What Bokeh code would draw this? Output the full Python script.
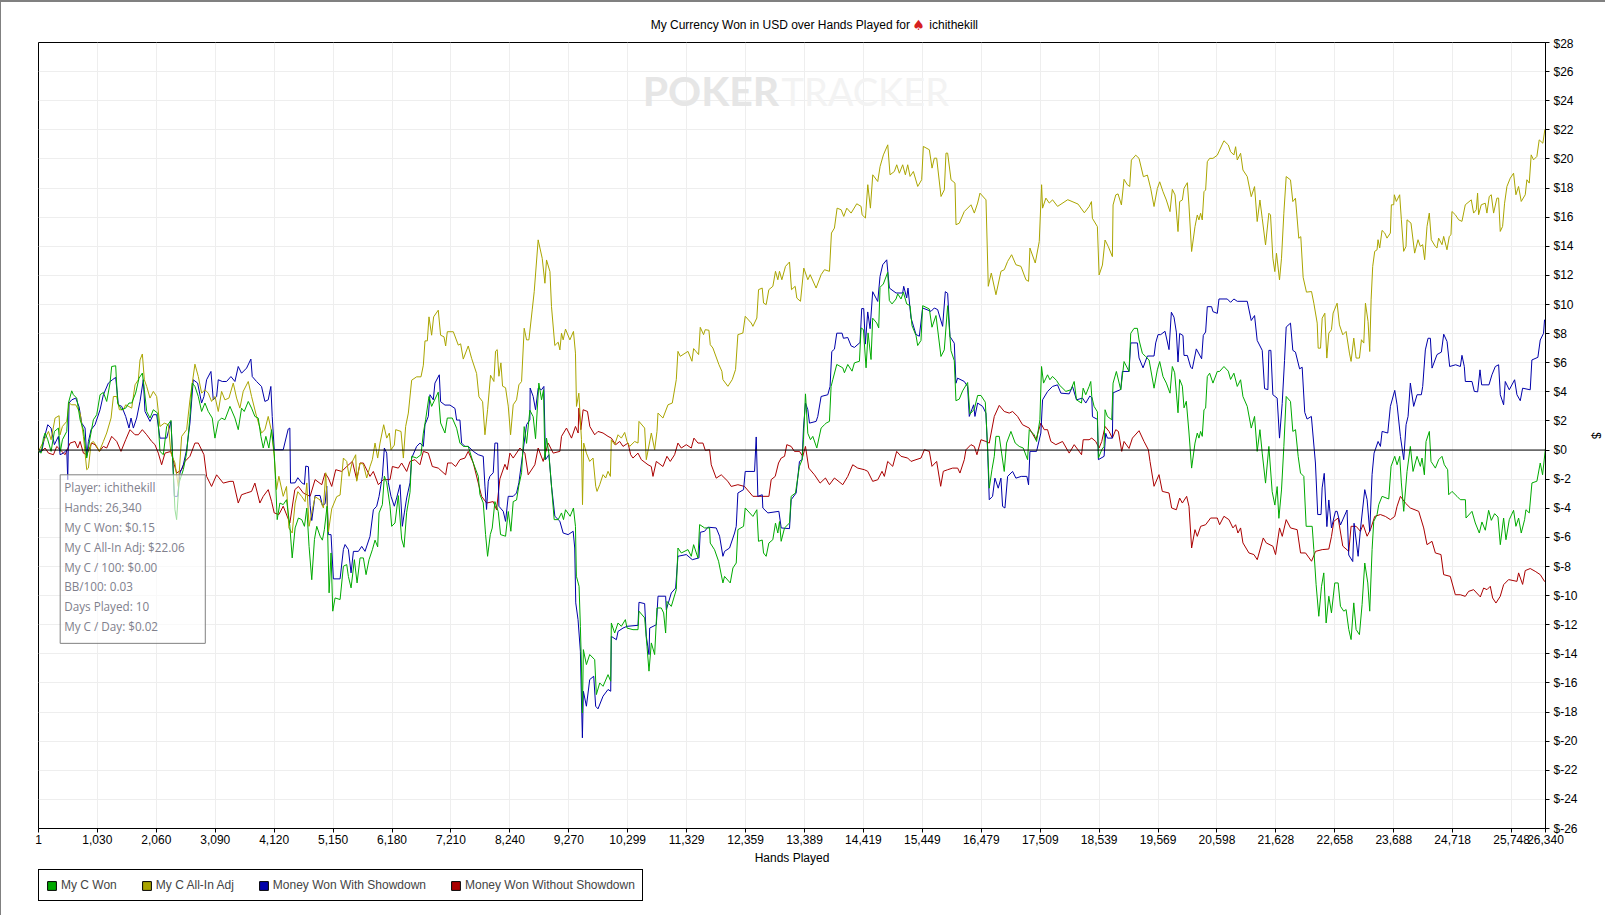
from bokeh.plotting import figure
from bokeh.layouts import column
from bokeh.models import (AllLabels, BoxAnnotation, FixedTicker, Label, Legend, LegendItem, Range1d, Span)
from bokeh.embed import file_html
from bokeh.resources import INLINE

TITLE_LEFT = "My Currency Won in USD over Hands Played for"
TITLE_ICON = "\u2660"
TITLE_RIGHT = "ichithekill"
X_TICKS = [1, 1030, 2060, 3090, 4120, 5150, 6180, 7210, 8240, 9270, 10299, 11329, 12359, 13389, 14419, 15449,
           16479, 17509, 18539, 19569, 20598, 21628, 22658, 23688, 24718, 25748, 26340]
Y_TICKS = list(range(-26, 30, 2))
TOOLTIP = ["Player: ichithekill", "Hands: 26,340", "My C Won: $0.15", "My C All-In Adj: $22.06", "My C / 100: $0.00",
           "BB/100: 0.03", "Days Played: 10", "My C / Day: $0.02"]

MY_C_WON = [(1,-0.09),(47,-0.21),(87,0.82),(116,1.17),(163,0.71),(221,-0.09),(279,1.28),(349,1.51),(384,-0.09),(419,0.71),
(495,1.28),(524,3.23),(582,4.07),(611,3.80),(669,3.57),(728,2.08),(786,1.40),(844,-0.55),(902,0.82),(960,2.08),
(1019,2.43),(1077,3.80),(1135,3.96),(1193,3.34),(1251,4.60),(1280,5.74),(1350,5.79),(1385,3.23),(1455,2.77),(1525,2.88),
(1583,3.23),(1630,3.23),(1699,3.91),(1758,4.94),(1816,5.29),(1851,4.14),(1892,2.65),(1950,2.20),(2008,2.77),(2084,2.54),
(2124,-0.09),(2183,-0.32),(2241,1.62),(2316,2.04),(2357,-1.58),(2386,-4.10),(2415,-4.78),(2456,-2.27),(2532,-1.35),(2590,-0.21),
(2648,2.31),(2689,4.60),(2735,4.37),(2794,3.68),(2852,2.65),(2910,3.23),(2968,2.65),(3038,2.20),(3085,0.82),(3143,1.97),
(3201,2.20),(3259,2.08),(3347,3.00),(3434,2.20),(3492,1.40),(3550,2.88),(3597,2.65),(3667,3.34),(3725,2.88),(3783,2.31),
(3841,2.20),(3888,0.94),(3929,0.14),(3975,0.94),(4027,0.14),(4074,1.40),(4121,-0.21),(4144,-2.04),(4173,-4.78),(4220,-3.64),
(4278,-3.75),(4336,-3.41),(4394,-5.24),(4435,-7.41),(4486,-5.35),(4544,-4.67),(4602,-4.78),(4649,-5.24),(4690,-3.98),(4730,-6.62),
(4777,-8.91),(4824,-6.15),(4864,-5.24),(4923,-5.92),(4963,-6.19),(4998,-5.45),(5044,-3.86),(5080,-9.81),(5114,-7.07),(5144,-11.07),
(5184,-10.16),(5272,-10.27),(5330,-7.98),(5388,-7.87),(5417,-8.68),(5464,-9.47),(5522,-7.53),(5569,-9.13),(5621,-7.41),(5679,-7.41),
(5726,-8.56),(5778,-7.53),(5836,-6.85),(5883,-6.19),(5929,-6.65),(5953,-4.32),(6011,-3.75),(6046,-1.79),(6087,-2.25),(6145,-3.86),
(6174,-5.24),(6232,-5.01),(6290,-3.13),(6348,-6.11),(6389,-6.68),(6436,-4.27),(6494,-2.90),(6523,-0.43),(6610,-0.55),(6686,-0.32),
(6727,1.16),(6767,2.08),(6826,3.68),(6872,3.00),(6988,3.98),(7029,1.86),(7105,1.17),(7146,2.20),(7233,2.20),(7309,1.50),
(7367,0.48),(7425,0.25),(7512,0.25),(7600,-0.89),(7687,-1.80),(7716,-3.05),(7774,-3.63),(7815,-5.81),(7850,-7.30),(7897,-5.81),
(7931,-5.36),(7978,-3.54),(8036,-4.22),(8077,-5.81),(8164,-5.92),(8211,-4.22),(8257,-5.58),(8298,-3.54),(8356,-3.43),(8397,-2.43),
(8444,-1.56),(8490,1.61),(8531,0.46),(8589,2.74),(8647,2.29),(8688,0.78),(8746,4.60),(8793,3.45),(8828,4.14),(8851,-0.66),
(8880,0.82),(8921,-0.21),(8967,-2.50),(9014,-4.78),(9084,-4.78),(9142,-4.32),(9177,-4.78),(9212,-4.10),(9293,-4.55),(9351,-3.98),
(9386,-5.24),(9402,-8.67),(9449,-9.36),(9472,-12.11),(9489,-14.63),(9507,-18.06),(9524,-13.71),(9577,-14.74),(9635,-14.05),(9722,-14.40),
(9751,-16.80),(9810,-16.00),(9868,-16.23),(9955,-15.43),(10002,-15.88),(10013,-11.88),(10071,-12.57),(10130,-11.88),(10188,-12.11),(10258,-11.65),
(10287,-12.23),(10391,-12.34),(10479,-12.34),(10496,-11.07),(10595,-11.53),(10636,-13.48),(10671,-15.19),(10712,-13.25),(10770,-14.05),(10811,-10.85),
(10886,-10.85),(10927,-11.19),(10962,-12.57),(10985,-10.40),(11061,-10.74),(11148,-9.59),(11177,-6.73),(11236,-7.07),(11352,-6.84),(11410,-7.30),
(11451,-6.50),(11527,-7.41),(11556,-5.12),(11643,-5.35),(11730,-5.35),(11742,-6.39),(11817,-6.85),(11887,-7.64),(11963,-9.13),(11992,-8.68),
(12091,-9.13),(12138,-8.10),(12196,-7.76),(12225,-5.47),(12324,-5.24),(12353,-3.98),(12487,-4.56),(12556,-4.10),(12585,-6.27),(12650,-6.18),
(12673,-7.07),(12719,-7.30),(12766,-6.39),(12835,-6.16),(12882,-5.02),(12923,-5.70),(12952,-4.91),(12981,-6.27),(13040,-5.35),(13127,-5.01),
(13156,-3.18),(13231,-2.95),(13301,-1.12),(13348,-0.66),(13371,0.71),(13406,3.86),(13447,1.15),(13493,0.71),(13534,0.94),(13604,0.14),
(13679,1.51),(13738,1.74),(13767,1.85),(13825,1.97),(13854,4.37),(13883,4.83),(13953,5.88),(14058,5.65),(14087,5.31),(14145,5.88),
(14220,5.42),(14261,5.99),(14349,6.10),(14378,8.39),(14418,8.28),(14465,5.65),(14500,8.05),(14552,6.22),(14581,9.06),(14651,8.73),
(14686,8.39),(14709,11.18),(14767,11.41),(14843,12.21),(14872,10.27),(14919,10.04),(14989,10.38),(15018,10.73),(15076,10.38),(15117,10.84),
(15175,10.04),(15233,9.92),(15268,8.55),(15338,7.87),(15367,7.18),(15425,7.53),(15454,9.92),(15571,9.69),(15617,8.44),(15687,9.24),
(15774,6.43),(15832,6.88),(15891,9.92),(15949,6.83),(16007,6.14),(16036,3.39),(16094,3.50),(16153,4.07),(16240,4.64),(16281,2.47),
(16357,2.81),(16415,3.75),(16473,3.75),(16549,3.29),(16589,0.25),(16618,-2.62),(16665,-1.35),(16706,-0.43),(16735,0.94),(16793,0.94),
(16834,-0.21),(16880,-1.47),(16921,0.48),(16997,1.28),(17072,0.48),(17142,0.25),(17212,0.14),(17288,-0.66),(17317,1.40),(17404,1.05),
(17445,0.59),(17503,2.08),(17532,5.74),(17567,4.60),(17637,5.17),(17678,4.83),(17724,5.06),(17794,4.78),(17841,4.48),(17957,4.03),
(18044,4.14),(18102,4.71),(18143,3.45),(18230,3.23),(18259,4.25),(18305,3.80),(18363,4.37),(18392,4.71),(18410,3.68),(18450,3.00),
(18508,2.63),(18526,-0.55),(18584,0.02),(18625,0.25),(18642,2.77),(18683,2.31),(18759,2.08),(18782,4.60),(18840,5.40),(18916,4.14),
(18974,6.08),(19061,5.40),(19091,8.02),(19149,8.36),(19207,8.36),(19236,7.56),(19294,6.65),(19352,6.42),(19411,6.19),(19498,4.25),
(19556,5.51),(19597,6.08),(19655,5.05),(19713,4.60),(19777,3.91),(19818,5.74),(19859,5.31),(19917,2.56),(19946,4.85),(19993,4.39),
(20022,2.90),(20062,3.35),(20108,1.24),(20155,-1.24),(20214,0.48),(20254,1.17),(20283,0.82),(20312,1.28),(20341,0.94),(20371,2.77),
(20400,2.88),(20429,5.05),(20470,5.28),(20528,4.60),(20604,5.40),(20644,5.40),(20720,5.74),(20796,5.42),(20836,4.85),(20894,5.28),
(20953,4.37),(21011,4.83),(21052,3.68),(21127,3.00),(21197,1.51),(21255,2.31),(21301,-0.09),(21349,1.40),(21389,-0.21),(21447,-2.27),
(21505,0.25),(21563,-2.86),(21610,-3.78),(21650,-2.51),(21680,-4.69),(21726,-2.74),(21767,0.25),(21808,3.68),(21883,3.34),(21924,1.28),
(21971,1.40),(22017,-0.43),(22058,-1.58),(22116,-1.81),(22157,-5.24),(22262,-5.24),(22291,-6.84),(22331,-9.25),(22378,-11.42),(22425,-9.36),
(22465,-8.44),(22506,-11.88),(22553,-10.04),(22599,-11.19),(22657,-9.13),(22716,-9.13),(22756,-10.73),(22814,-11.07),(22855,-10.96),(22902,-12.33),
(22942,-13.02),(22989,-10.50),(23030,-12.33),(23088,-12.68),(23134,-10.62),(23181,-7.76),(23234,-9.13),(23268,-11.07),(23309,-6.84),(23338,-4.90),
(23396,-4.44),(23426,-3.75),(23484,-3.18),(23600,-3.36),(23641,-1.12),(23705,-0.43),(23746,-1.01),(23792,-0.43),(23821,-2.26),(23862,-4.21),
(23920,-1.47),(23978,0.25),(24025,-1.47),(24095,-0.43),(24153,-1.12),(24182,-0.55),(24223,-1.70),(24252,0.59),(24310,1.28),(24339,-0.78),
(24415,-1.24),(24473,-0.66),(24531,-0.43),(24572,-1.01),(24630,-1.35),(24648,-3.07),(24706,-2.84),(24793,-3.18),(24851,-3.41),(24940,-3.41),
(24951,-4.67),(25055,-4.21),(25113,-5.01),(25183,-5.70),(25229,-4.94),(25288,-5.51),(25346,-4.14),(25393,-4.83),(25451,-4.37),(25509,-4.60),
(25550,-6.50),(25608,-4.67),(25649,-6.16),(25707,-4.78),(25782,-4.14),(25823,-5.24),(25870,-4.67),(25916,-5.70),(25975,-4.78),(25998,-4.10),
(26056,-4.32),(26103,-2.26),(26190,-2.14),(26248,-0.89),(26289,-1.70),(26340,0.15)]

MY_C_ALL_IN_ADJ = [(1,-0.09),(87,0.59),(175,1.28),(221,0.71),(291,2.20),(361,2.36),(378,1.05),(419,1.62),(495,1.97),(535,3.23),
(582,3.11),(652,3.11),(728,2.54),(786,0.94),(844,-1.35),(873,-1.24),(920,0.48),(960,0.59),(1019,0.25),(1065,-0.09),
(1135,0.59),(1193,1.17),(1269,2.20),(1310,3.68),(1368,3.68),(1414,2.77),(1484,2.77),(1525,3.11),(1630,2.88),(1688,4.48),
(1746,4.83),(1775,6.19),(1816,6.60),(1851,4.83),(1892,4.37),(1950,3.57),(2008,4.03),(2066,3.68),(2124,1.62),(2200,1.85),
(2270,1.74),(2316,-0.21),(2386,-0.89),(2444,-2.50),(2503,0.94),(2590,1.40),(2648,3.45),(2735,5.90),(2794,5.05),(2852,3.91),
(2910,4.14),(2968,3.91),(3026,3.34),(3085,3.68),(3143,2.65),(3201,4.03),(3259,3.45),(3329,3.57),(3405,4.60),(3463,3.57),
(3521,2.88),(3579,4.03),(3667,4.71),(3725,3.68),(3812,2.31),(3899,1.17),(3958,1.40),(4016,2.31),(4074,1.28),(4121,-0.43),
(4161,-2.72),(4202,-1.80),(4278,-3.18),(4336,-2.50),(4377,-5.35),(4435,-5.70),(4486,-3.64),(4533,-2.86),(4603,-3.20),(4661,-3.54),
(4690,-2.26),(4730,-5.24),(4835,-3.20),(4922,-3.43),(4981,-3.98),(5021,-1.56),(5068,-5.63),(5126,-4.03),(5213,-3.20),(5272,-3.09),
(5330,-0.55),(5388,-0.78),(5429,-1.80),(5487,-0.78),(5545,-0.32),(5563,-2.14),(5621,-0.89),(5679,-0.98),(5737,-1.92),(5796,-1.12),
(5836,-0.66),(5883,0.48),(5929,-0.55),(5970,0.48),(6034,1.74),(6087,0.82),(6133,1.17),(6163,0.02),(6220,0.34),(6244,1.40),
(6337,1.28),(6378,-0.55),(6418,1.62),(6465,2.54),(6523,4.80),(6610,5.03),(6686,5.03),(6727,5.83),(6756,7.50),(6797,7.50),
(6826,9.15),(6872,7.89),(6907,9.15),(6988,9.61),(7029,7.89),(7088,7.78),(7117,7.15),(7146,8.13),(7251,8.13),(7338,7.21),
(7379,7.30),(7425,6.25),(7512,7.15),(7571,6.30),(7658,5.26),(7699,3.66),(7763,3.32),(7804,1.05),(7850,2.77),(7902,5.14),
(7960,4.71),(7989,6.79),(8018,6.90),(8048,5.07),(8083,5.99),(8112,4.39),(8164,4.28),(8211,3.02),(8252,1.05),(8298,3.11),
(8356,3.45),(8397,4.48),(8444,4.71),(8490,8.37),(8531,7.57),(8572,7.57),(8630,9.63),(8665,10.88),(8734,14.44),(8805,13.17),
(8852,11.46),(8880,13.06),(8940,12.26),(8967,9.86),(9025,7.18),(9084,7.41),(9114,6.88),(9142,8.03),(9171,7.57),(9212,8.31),
(9288,7.57),(9351,8.15),(9386,6.66),(9404,3.00),(9445,3.91),(9491,0.71),(9509,-3.75),(9530,0.48),(9577,-0.21),(9635,-0.78),
(9693,-0.55),(9740,-2.49),(9763,-2.84),(9810,-2.38),(9868,-1.69),(9914,-1.92),(9955,-1.46),(9996,-1.81),(10013,0.71),(10071,0.37),
(10130,1.05),(10188,0.82),(10246,1.21),(10287,0.59),(10333,0.25),(10421,0.59),(10479,0.48),(10496,1.97),(10595,1.51),(10624,-0.66),
(10712,1.17),(10770,0.02),(10811,1.28),(10828,2.54),(10915,2.20),(11003,3.11),(11078,3.23),(11148,4.84),(11177,6.78),(11218,6.44),
(11352,6.78),(11422,6.10),(11451,6.97),(11538,6.56),(11567,8.43),(11625,7.93),(11654,8.27),(11718,8.23),(11742,7.24),(11788,7.01),
(11893,5.87),(11945,5.41),(11963,4.84),(12050,4.38),(12126,4.84),(12184,5.53),(12225,7.93),(12312,8.04),(12353,9.19),(12458,8.73),
(12487,8.50),(12556,9.07),(12586,11.02),(12650,11.13),(12673,10.10),(12719,9.99),(12766,11.02),(12836,11.25),(12882,12.28),(12923,11.70),
(12952,12.28),(12993,11.70),(13057,12.62),(13127,12.92),(13162,11.02),(13226,11.25),(13255,10.44),(13319,10.22),(13377,12.50),(13447,11.70),
(13488,12.05),(13592,11.13),(13680,12.05),(13738,12.39),(13825,12.28),(13860,14.91),(13912,15.25),(13959,16.62),(14029,16.51),(14075,16.05),
(14128,16.62),(14204,16.28),(14302,16.92),(14378,16.74),(14396,16.16),(14454,15.94),(14495,18.23),(14541,16.62),(14582,18.91),(14669,18.45),
(14710,19.48),(14768,20.28),(14844,20.97),(14884,18.91),(14960,19.14),(15001,19.60),(15047,19.02),(15105,19.60),(15152,18.91),(15193,19.60),
(15234,18.80),(15292,19.14),(15368,18.11),(15437,18.57),(15466,20.86),(15571,20.63),(15618,19.37),(15658,20.05),(15699,20.05),(15775,17.42),
(15833,17.88),(15862,20.40),(15891,20.40),(15950,18.57),(16019,18.34),(16037,15.48),(16095,15.59),(16182,16.39),(16299,16.85),(16357,16.28),
(16415,16.97),(16456,17.65),(16561,17.19),(16601,11.25),(16654,12.16),(16735,10.67),(16823,12.28),(16881,12.39),(16939,12.96),(17009,13.42),
(17084,12.73),(17172,12.62),(17259,11.70),(17305,11.59),(17329,13.88),(17422,12.85),(17492,14.33),(17533,18.23),(17550,16.62),(17608,17.31),
(17667,16.97),(17725,17.19),(17812,16.74),(17990,17.20),(18170,16.90),(18280,16.30),(18363,16.73),(18404,17.07),(18421,15.92),(18508,15.35),
(18538,12.03),(18596,12.71),(18642,14.43),(18700,13.97),(18770,13.29),(18782,16.84),(18829,17.53),(18869,17.60),(18928,16.84),(18974,18.60),
(19032,18.22),(19073,18.11),(19102,19.92),(19178,20.26),(19236,20.04),(19312,18.78),(19382,18.89),(19440,17.97),(19498,16.73),(19556,17.97),
(19597,18.43),(19655,17.75),(19713,17.18),(19777,16.38),(19818,17.91),(19865,17.53),(19917,15.01),(19946,17.07),(19993,17.18),(20022,17.98),
(20080,18.37),(20108,16.84),(20155,13.64),(20214,15.35),(20254,16.15),(20283,15.81),(20312,16.27),(20341,15.81),(20371,17.75),(20400,17.87),
(20429,19.81),(20470,20.04),(20528,20.04),(20604,20.26),(20644,20.61),(20720,21.25),(20796,20.96),(20836,20.50),(20894,20.27),(20924,20.84),
(20953,19.93),(21011,20.39),(21052,19.24),(21127,18.79),(21197,17.41),(21255,18.10),(21301,15.70),(21349,17.18),(21389,15.92),(21447,14.09),
(21505,16.27),(21534,16.15),(21575,13.18),(21609,12.26),(21638,13.52),(21691,11.69),(21726,13.18),(21767,16.27),(21808,18.79),(21883,18.56),
(21924,17.07),(21970,17.30),(22028,14.55),(22063,14.66),(22104,11.87),(22162,10.85),(22251,10.89),(22291,10.09),(22350,8.72),(22367,7.00),
(22408,7.00),(22437,9.06),(22483,9.40),(22518,6.32),(22553,8.03),(22599,8.27),(22628,9.41),(22698,10.09),(22739,8.60),(22797,7.92),
(22855,8.15),(22913,6.66),(22942,6.09),(22989,7.69),(23030,6.32),(23088,6.32),(23123,7.58),(23164,7.35),(23193,10.09),(23239,8.83),
(23268,6.77),(23292,10.32),(23320,12.62),(23355,13.65),(23396,13.76),(23413,14.45),(23442,13.88),(23483,15.09),(23530,14.91),(23570,14.56),
(23629,14.91),(23646,16.85),(23687,16.85),(23698,17.54),(23733,17.08),(23791,17.54),(23821,15.82),(23861,13.65),(23902,13.99),(23920,15.82),
(23989,15.59),(24053,13.53),(24112,14.45),(24152,13.99),(24193,14.11),(24228,13.08),(24269,15.36),(24309,16.28),(24344,14.45),(24414,13.99),
(24443,13.88),(24472,14.56),(24531,14.11),(24560,14.68),(24618,13.76),(24659,14.68),(24688,14.79),(24705,16.39),(24763,16.17),(24822,15.82),
(24880,15.71),(24938,16.85),(25043,17.19),(25084,16.28),(25130,16.51),(25153,17.65),(25171,16.17),(25217,16.85),(25287,16.96),(25316,16.28),
(25357,17.42),(25392,17.54),(25433,16.28),(25491,17.31),(25520,17.31),(25549,15.02),(25590,15.36),(25625,16.96),(25666,18.11),(25724,18.68),
(25782,19.02),(25823,17.54),(25869,18.11),(25916,17.08),(25986,17.54),(26015,18.57),(26056,18.34),(26090,20.28),(26131,19.94),(26189,20.17),
(26230,21.31),(26294,21.08),(26328,22.00),(26340,22.06)]

MONEY_WITH_SHOWDOWN = [(1,-0.09),(58,-0.09),(116,1.05),(163,1.74),(221,1.51),(279,0.37),(349,0.94),(378,-0.32),(437,-0.21),(495,0.02),
(512,-2.04),(535,3.23),(582,3.45),(652,3.57),(710,2.97),(757,1.85),(815,1.51),(844,-0.43),(873,0.59),(920,1.40),
(989,1.74),(1077,2.77),(1135,3.80),(1222,4.60),(1292,4.83),(1350,4.99),(1397,3.11),(1455,3.00),(1525,2.31),(1583,1.51),
(1618,2.20),(1659,1.51),(1717,2.20),(1775,3.34),(1833,4.83),(1862,2.65),(1950,1.97),(2008,2.43),(2066,2.43),(2124,0.82),
(2241,0.82),(2316,1.97),(2340,0.02),(2375,-3.18),(2433,-3.18),(2474,-1.58),(2532,-1.01),(2590,0.02),(2648,1.85),(2706,4.83),
(2782,4.60),(2852,3.23),(2893,3.68),(2939,4.83),(3015,5.40),(3056,3.45),(3114,3.68),(3143,4.83),(3213,4.71),(3288,4.71),
(3364,5.05),(3434,4.71),(3492,5.74),(3550,5.28),(3638,5.63),(3713,6.25),(3737,5.05),(3812,4.71),(3899,4.37),(3958,3.34),
(4016,3.45),(4062,4.37),(4086,2.31),(4121,0.02),(4278,0.02),(4365,1.44),(4394,1.51),(4406,-2.27),(4486,-2.25),(4533,-1.90),
(4602,-2.25),(4649,-2.36),(4672,-1.10),(4719,-1.15),(4748,-3.81),(4777,-4.84),(4835,-3.12),(4922,-3.12),(4963,-3.81),(5010,-3.69),
(5039,-2.48),(5068,-5.81),(5114,-5.81),(5155,-8.85),(5272,-8.85),(5330,-6.83),(5359,-6.49),(5417,-6.83),(5464,-8.44),(5505,-6.96),
(5592,-6.96),(5650,-6.62),(5708,-6.96),(5795,-5.93),(5854,-4.10),(5912,-3.86),(5953,-3.18),(6011,-1.80),(6046,0.14),(6087,-0.21),
(6116,-2.25),(6162,-3.18),(6220,-3.86),(6261,-3.29),(6320,-2.38),(6360,-5.24),(6395,-4.32),(6436,-3.29),(6494,-2.25),(6523,-0.55),
(6610,0.25),(6668,0.48),(6727,0.25),(6756,1.74),(6814,2.31),(6843,3.80),(6901,3.45),(6930,4.60),(7006,5.17),(7029,3.32),
(7105,3.09),(7193,3.09),(7280,2.86),(7309,2.06),(7367,2.06),(7396,0.48),(7454,0.25),(7512,0.25),(7600,-0.09),(7687,-0.32),
(7774,-0.43),(7804,-2.48),(7832,-4.08),(7862,-2.14),(7891,-1.80),(7949,-1.56),(7978,0.48),(8025,0.48),(8048,-3.86),(8124,-4.21),
(8164,-4.90),(8211,-3.18),(8298,-3.18),(8356,-2.95),(8397,-2.25),(8531,1.74),(8589,2.08),(8594,4.26),(8646,3.69),(8688,2.77),
(8735,4.26),(8793,4.14),(8834,4.37),(8863,-0.66),(8921,-0.32),(8968,-2.49),(9026,-4.55),(9113,-4.89),(9171,-5.70),(9258,-5.81),
(9346,-5.58),(9373,-6.73),(9391,-10.50),(9431,-11.65),(9472,-13.82),(9489,-16.90),(9507,-19.77),(9524,-16.57),(9577,-17.60),(9635,-15.77),
(9705,-15.54),(9739,-17.60),(9780,-17.78),(9868,-16.91),(9955,-16.45),(10002,-16.57),(10013,-12.80),(10101,-13.03),(10130,-12.46),(10217,-12.23),
(10287,-12.11),(10479,-12.04),(10496,-10.46),(10595,-10.55),(10624,-12.80),(10671,-14.05),(10683,-12.23),(10799,-12.00),(10829,-10.04),(10962,-10.04),
(10974,-10.97),(11061,-9.82),(11137,-9.48),(11177,-7.30),(11323,-7.18),(11428,-7.53),(11544,-7.41),(11567,-5.65),(11643,-5.58),(11701,-5.30),
(11846,-5.35),(11905,-5.92),(11963,-7.30),(11992,-6.96),(12079,-6.73),(12167,-5.70),(12196,-5.24),(12225,-2.95),(12324,-2.72),(12353,-1.47),
(12516,-1.47),(12545,0.90),(12574,-3.18),(12650,-3.07),(12661,-3.98),(12749,-4.32),(12941,-4.21),(12982,-5.35),(13127,-5.40),(13156,-3.41),
(13243,-2.95),(13301,-0.78),(13348,-0.66),(13371,1.51),(13406,3.23),(13447,2.77),(13476,1.85),(13592,1.97),(13621,2.31),(13679,3.68),
(13796,3.80),(13836,4.37),(13866,6.77),(13912,6.93),(13953,8.03),(14046,8.03),(14069,7.68),(14145,7.73),(14203,7.16),(14261,7.05),
(14360,7.39),(14389,9.72),(14424,9.72),(14453,7.28),(14494,9.49),(14535,8.34),(14581,10.88),(14669,10.21),(14709,11.93),(14756,12.73),
(14826,13.07),(14872,11.13),(14989,10.79),(15105,10.79),(15123,11.25),(15175,10.45),(15198,11.13),(15250,9.08),(15338,7.94),(15396,7.82),
(15454,9.76),(15600,9.53),(15658,9.76),(15716,9.65),(15803,8.50),(15850,10.88),(15891,10.77),(15932,7.80),(16007,7.34),(16036,4.59),
(16065,4.94),(16182,4.71),(16240,4.36),(16269,2.31),(16345,3.11),(16368,2.31),(16415,3.23),(16502,3.00),(16560,2.54),(16589,0.02),
(16618,-3.41),(16676,-3.18),(16717,-1.93),(16775,-2.62),(16822,-1.93),(16851,-3.87),(16892,-3.98),(16939,-1.81),(17026,-1.47),(17084,-1.93),
(17177,-1.81),(17276,-1.81),(17305,-2.39),(17329,-0.09),(17445,-0.09),(17520,1.17),(17550,3.45),(17637,4.02),(17724,4.37),(17811,4.48),
(17870,3.91),(18015,3.86),(18073,4.37),(18143,3.45),(18248,3.57),(18305,3.23),(18376,3.71),(18410,3.60),(18422,2.29),(18508,2.11),
(18526,-0.66),(18625,-0.43),(18654,1.15),(18683,0.82),(18770,0.82),(18782,3.93),(18916,4.16),(18945,5.40),(19061,5.40),(19091,7.36),
(19207,7.36),(19236,6.33),(19306,5.65),(19382,6.46),(19498,6.46),(19527,7.36),(19568,7.93),(19614,7.93),(19690,8.16),(19760,6.90),
(19801,9.47),(19847,9.13),(19888,8.10),(19917,6.05),(19946,8.01),(20004,7.87),(20022,6.50),(20080,6.50),(20138,5.70),(20167,5.58),
(20237,6.95),(20330,6.27),(20359,7.88),(20400,8.11),(20429,9.85),(20504,9.85),(20528,9.51),(20604,9.39),(20633,10.38),(20778,10.38),
(20836,10.15),(20894,10.38),(20953,10.22),(21127,10.22),(21197,8.90),(21255,9.24),(21301,7.53),(21389,6.85),(21430,4.22),(21488,4.15),
(21505,6.85),(21540,6.85),(21575,3.80),(21650,3.57),(21691,0.82),(21738,3.20),(21779,6.16),(21808,8.45),(21883,8.72),(21924,6.85),
(21970,6.73),(22042,5.58),(22087,5.69),(22132,2.59),(22173,2.13),(22248,2.31),(22319,-0.89),(22359,-4.43),(22417,-4.43),(22436,-2.60),
(22473,-1.60),(22519,-5.26),(22553,-3.43),(22599,-5.35),(22669,-4.21),(22698,-4.21),(22756,-5.15),(22871,-4.12),(22901,-7.21),(22971,-7.66),
(22994,-5.03),(23065,-7.30),(23105,-5.47),(23181,-2.72),(23222,-3.41),(23268,-5.58),(23309,-1.67),(23344,-0.21),(23414,0.59),(23455,0.25),
(23484,1.28),(23583,1.17),(23629,3.00),(23705,4.10),(23746,3.11),(23804,0.94),(23862,-0.66),(23903,1.74),(23938,2.31),(23978,4.60),
(24036,3.00),(24095,3.80),(24170,3.80),(24194,4.37),(24240,6.88),(24287,7.68),(24328,7.68),(24357,5.63),(24444,6.56),(24520,6.73),
(24561,7.96),(24619,7.46),(24665,5.74),(24770,5.86),(24852,5.74),(24880,6.51),(24921,5.74),(24939,4.71),(25055,4.71),(25096,4.03),
(25154,4.00),(25195,5.51),(25224,4.48),(25352,4.48),(25404,5.17),(25463,5.74),(25521,5.86),(25550,3.80),(25608,3.11),(25637,4.71),
(25707,4.14),(25800,4.83),(25841,3.80),(25899,3.39),(25940,4.25),(26073,4.14),(26102,6.19),(26207,6.37),(26248,7.56),(26306,8.02),
(26323,8.94),(26340,8.94)]

MONEY_WITHOUT_SHOWDOWN = [(1,-0.09),(58,-0.09),(116,0.14),(175,-0.21),(262,-0.32),(320,0.25),(407,-0.09),(466,-0.32),(553,0.48),(640,0.59),
(687,0.14),(728,0.59),(786,-0.21),(844,-0.32),(931,0.48),(989,0.37),(1065,-0.09),(1135,0.25),(1193,0.14),(1280,0.94),
(1368,0.59),(1443,-0.09),(1525,0.71),(1600,1.40),(1688,1.05),(1746,1.05),(1816,1.40),(1892,1.05),(1979,0.59),(2037,0.37),
(2095,-0.21),(2153,-1.01),(2212,-0.21),(2316,-0.09),(2375,-1.01),(2415,-1.58),(2503,-1.35),(2561,-0.78),(2648,-0.43),(2735,0.48),
(2794,0.48),(2893,-0.32),(2939,-1.81),(3026,-2.50),(3114,-1.70),(3230,-2.27),(3347,-2.15),(3405,-2.15),(3492,-3.64),(3550,-3.07),
(3638,-2.95),(3725,-2.84),(3783,-2.27),(3870,-3.64),(3929,-3.18),(4016,-2.72),(4074,-3.52),(4121,-4.32),(4202,-4.43),(4278,-3.86),
(4394,-5.01),(4481,-2.72),(4544,-2.50),(4632,-2.96),(4748,-3.18),(4835,-2.03),(4952,-2.38),(5010,-1.58),(5068,-1.93),(5126,-2.50),
(5196,-1.35),(5301,-1.47),(5388,-1.13),(5487,-0.78),(5563,-2.03),(5621,-0.89),(5679,-0.89),(5795,-1.81),(5853,-1.47),(5941,-2.38),
(6028,-2.03),(6145,-2.03),(6186,-1.13),(6290,-1.24),(6348,-0.89),(6436,-1.47),(6494,-0.78),(6581,-0.66),(6668,-1.01),(6727,-0.09),
(6814,-0.21),(6884,-1.13),(6988,-1.24),(7117,-1.70),(7152,-0.89),(7221,-0.89),(7291,-1.13),(7367,-0.66),(7454,-0.55),(7512,-0.09),
(7600,-0.89),(7687,-2.26),(7745,-3.18),(7833,-3.64),(7949,-3.54),(8007,-4.10),(8065,-1.98),(8153,-0.98),(8193,-1.35),(8240,-0.21),
(8298,-0.55),(8415,0.14),(8502,-0.21),(8560,-1.70),(8676,-1.01),(8734,0.14),(8822,-0.78),(8909,0.48),(8997,-0.21),(9113,-0.09),
(9142,0.94),(9229,1.51),(9317,0.82),(9386,1.62),(9433,1.17),(9445,2.88),(9480,1.40),(9520,2.77),(9596,2.65),(9637,1.62),
(9722,1.05),(9780,1.28),(9868,1.17),(9955,0.94),(10013,0.82),(10089,0.37),(10159,0.59),(10217,0.25),(10304,0.48),(10351,-0.32),
(10391,-0.55),(10479,-0.21),(10537,-0.66),(10654,-1.01),(10711,-1.13),(10741,-1.81),(10799,-0.78),(10915,-1.13),(10985,-0.43),(11043,-0.78),
(11119,-0.32),(11177,0.48),(11236,0.14),(11323,0.37),(11410,0.14),(11457,0.82),(11527,0.48),(11614,0.48),(11655,-0.02),(11730,0.02),
(11759,-1.01),(11846,-1.93),(11934,-1.70),(12050,-2.15),(12108,-2.50),(12225,-2.38),(12341,-2.50),(12487,-3.18),(12632,-3.18),(12767,-3.18),
(12807,-2.03),(12877,-1.81),(12935,-0.89),(12982,-0.55),(13040,-0.43),(13080,0.37),(13156,0.25),(13213,-0.09),(13301,-0.09),(13359,-0.43),
(13406,0.25),(13464,-1.24),(13563,-1.70),(13662,-2.27),(13755,-1.92),(13825,-2.38),(13912,-1.92),(14058,-2.38),(14145,-1.81),(14232,-1.01),
(14320,-1.24),(14436,-1.35),(14494,-1.46),(14581,-2.15),(14669,-2.04),(14744,-1.46),(14785,-1.81),(14843,-0.78),(14931,-1.12),(15000,-0.09),
(15076,-0.43),(15193,-0.55),(15251,-0.78),(15338,-0.66),(15425,-0.55),(15484,0.02),(15571,-0.09),(15617,-1.12),(15699,-0.78),(15769,-2.49),
(15815,-1.46),(15891,-1.35),(15978,-1.24),(16066,-1.24),(16106,-1.58),(16182,-0.66),(16211,0.02),(16298,0.37),(16357,0.25),(16403,-0.32),
(16473,0.71),(16560,0.59),(16618,0.48),(16706,2.31),(16793,3.07),(16880,2.65),(16968,2.54),(17026,2.65),(17113,2.31),(17200,1.74),
(17317,1.51),(17433,0.71),(17520,1.85),(17579,1.40),(17637,1.40),(17695,0.59),(17782,0.37),(17899,0.59),(18015,-0.21),(18103,0.37),
(18231,-0.32),(18260,0.71),(18363,0.71),(18410,0.82),(18479,0.59),(18538,0.14),(18584,0.59),(18642,1.62),(18712,1.28),(18770,0.82),
(18829,1.40),(18875,1.28),(18933,-0.09),(18974,0.59),(19061,0.11),(19120,0.82),(19236,1.33),(19323,0.59),(19399,0.02),(19428,-0.78),
(19498,-2.49),(19585,-1.69),(19643,-2.84),(19760,-2.95),(19806,-3.98),(19888,-4.10),(19946,-3.30),(19993,-3.64),(20068,-3.18),(20109,-3.87),
(20155,-6.73),(20214,-5.47),(20254,-5.93),(20313,-5.24),(20400,-5.13),(20487,-4.67),(20604,-4.67),(20644,-5.13),(20720,-4.55),(20807,-4.78),
(20877,-5.35),(20924,-5.13),(20965,-5.70),(21011,-5.35),(21052,-6.38),(21157,-7.07),(21244,-7.18),(21302,-7.53),(21407,-6.04),(21459,-6.38),
(21576,-6.61),(21622,-7.18),(21692,-5.35),(21739,-5.93),(21808,-4.78),(21884,-5.35),(22000,-5.47),(22059,-7.07),(22146,-7.07),(22251,-7.64),
(22321,-6.96),(22437,-6.84),(22553,-6.80),(22599,-5.94),(22640,-4.90),(22716,-4.67),(22797,-6.60),(22902,-6.96),(22942,-5.24),(23030,-5.24),
(23105,-5.58),(23152,-5.12),(23222,-5.92),(23280,-5.47),(23355,-4.56),(23454,-4.43),(23542,-4.56),(23629,-4.78),(23705,-4.56),(23746,-3.86),
(23804,-3.18),(23891,-3.64),(23978,-3.98),(24124,-4.21),(24211,-5.35),(24269,-6.50),(24356,-6.27),(24415,-7.07),(24513,-7.18),(24560,-8.56),
(24676,-8.68),(24764,-9.94),(24851,-9.94),(24938,-10.05),(24996,-9.71),(25084,-9.59),(25201,-10.09),(25259,-9.48),(25317,-9.59),(25375,-9.36),
(25416,-10.16),(25474,-10.51),(25549,-10.05),(25608,-9.25),(25695,-8.90),(25841,-9.02),(25870,-8.44),(25940,-9.23),(25986,-8.28),(26073,-8.14),
(26160,-8.33),(26248,-8.56),(26323,-9.02),(26340,-9.02)]

COLORS = {"won": "#00aa00", "adj": "#aaa500", "with": "#0000aa", "without": "#aa0000"}
GRID = "#eeeeee"
FONT = "Liberation Sans"
PAGE_W = 1604

# Title strip: its frame lines up with the main frame, so it is ranged in page pixels.
head = figure(width=PAGE_W, height=34, output_backend="svg", toolbar_location=None, x_range=Range1d(38, 1547), y_range=Range1d(36, 2),
              min_border_left=37, min_border_right=58, min_border_top=0, min_border_bottom=0, outline_line_color=None)
head.axis.visible = False
head.grid.visible = False
head.add_layout(Label(x=651, y=24.5, text=TITLE_LEFT, text_font=FONT, text_font_size="12px", text_color="black", text_baseline="middle"))
head.add_layout(Label(x=913, y=24.5, text=TITLE_ICON, text_font="DejaVu Sans", text_font_size="14px", text_color="#d62020", text_baseline="middle"))
head.add_layout(Label(x=930, y=24.5, text=TITLE_RIGHT, text_font=FONT, text_font_size="12px", text_color="black", text_baseline="middle"))

p = figure(width=PAGE_W, height=831, output_backend="svg", toolbar_location=None, x_range=Range1d(1, 26340), y_range=Range1d(-26, 28),
           x_axis_location="below", y_axis_location="right", min_border_left=37, min_border_right=58, min_border_top=6, min_border_bottom=38)
p.outline_line_color = "black"
p.outline_line_width = 1
p.xgrid.ticker = FixedTicker(ticks=X_TICKS)
p.ygrid.ticker = FixedTicker(ticks=Y_TICKS)
p.xgrid.grid_line_color = GRID
p.ygrid.grid_line_color = GRID

for ax, ticks in ((p.xaxis[0], X_TICKS), (p.yaxis[0], Y_TICKS)):
    ax.ticker = FixedTicker(ticks=ticks)
    ax.major_label_policy = AllLabels()
    ax.major_tick_out = 4
    ax.major_tick_in = 0
    ax.minor_tick_line_color = None
    ax.axis_line_color = "black"
    ax.major_tick_line_color = "black"
    ax.major_label_text_color = "black"
    ax.major_label_text_font = FONT
    ax.major_label_text_font_size = "12px"
    ax.axis_label_text_font = FONT
    ax.axis_label_text_font_size = "12px"
    ax.axis_label_text_font_style = "normal"
    ax.axis_label_text_color = "black"
p.xaxis[0].major_label_overrides = {t: f"{t:,}" for t in X_TICKS}
p.yaxis[0].major_label_overrides = {t: f"${t}" for t in Y_TICKS}
p.xaxis[0].axis_label = "Hands Played"
p.yaxis[0].axis_label = "$"
p.xaxis[0].major_label_standoff = 2
p.xaxis[0].axis_label_standoff = 4
p.yaxis[0].major_label_standoff = 4
p.yaxis[0].major_label_orientation = "horizontal"
p.yaxis[0].axis_label_standoff = 8

for text, hand, usd, size, style, color in (("POKER", 10560, 24.7, "41px", "bold", "#e6e6e6"), ("TRACKER", 12986, 24.7, "38px", "normal", "#f3f3f3")):
    p.add_layout(Label(x=hand, y=usd, text=text, text_font="Lato", text_font_size=size, text_font_style=style,
                       text_color=color, level="underlay", text_baseline="alphabetic"))

for series, color in ((MONEY_WITHOUT_SHOWDOWN, COLORS["without"]), (MONEY_WITH_SHOWDOWN, COLORS["with"]),
                      (MY_C_ALL_IN_ADJ, COLORS["adj"]), (MY_C_WON, COLORS["won"])):
    p.line([a for a, _ in series], [b for _, b in series], line_color=color, line_width=1)

p.add_layout(Span(location=0, dimension="width", line_color="black", line_width=1))

p.add_layout(BoxAnnotation(left=380, right=2916, top=-1.70, bottom=-13.28, fill_color="white", fill_alpha=0.62,
                           line_color="#808080", line_alpha=1, line_width=1))
for i, line in enumerate(TOOLTIP):
    p.add_layout(Label(x=450, y=-2.51 - i * 1.3727, text=line, text_font="Open Sans", text_font_size="11.7px", text_color="#80808c", text_baseline="middle"))

# Legend strip: a separate frameless figure holding a real legend.
foot = figure(width=PAGE_W, height=48, output_backend="svg", toolbar_location=None, x_range=Range1d(0, 1), y_range=Range1d(0, 1),
              min_border_left=37, min_border_right=58, min_border_top=0, min_border_bottom=0, outline_line_color=None)
foot.axis.visible = False
foot.grid.visible = False
items = []
for name, color in (("My C Won", COLORS["won"]), ("My C All-In Adj", COLORS["adj"]), ("Money Won With Showdown", COLORS["with"]), ("Money Won Without Showdown", COLORS["without"])):
    r = foot.quad(left=[2], right=[3], top=[3], bottom=[2], fill_color=color, line_color="black")
    items.append(LegendItem(label=name, renderers=[r]))
legend = Legend(items=items, orientation="horizontal", location=(0, 14), border_line_color="black", border_line_width=1, border_line_alpha=1,
                background_fill_alpha=1, glyph_width=11, glyph_height=11, label_standoff=4, spacing=24, padding=7, margin=0,
                label_text_font=FONT, label_text_font_size="12px", label_height=16)
foot.add_layout(legend)

page = column(head, p, foot, spacing=0, styles={"border-top": "2px solid #808080", "border-left": "1px solid #808080"})
open("out.html", "w").write(file_html(page, INLINE))
